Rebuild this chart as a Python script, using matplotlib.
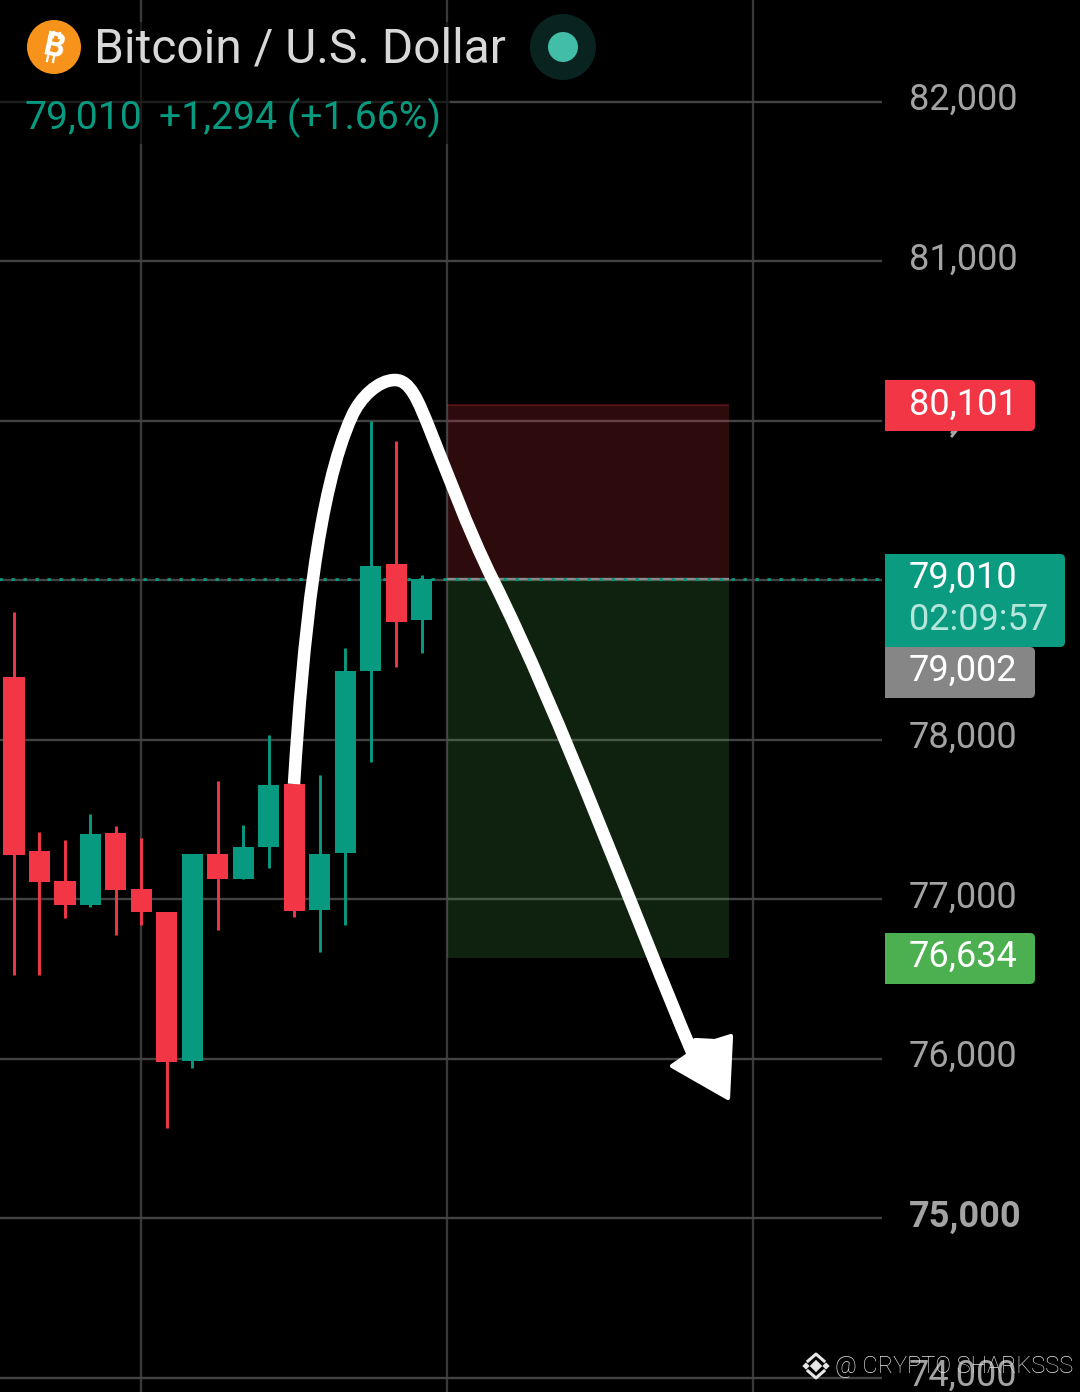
import matplotlib
matplotlib.use("Agg")
import matplotlib.pyplot as plt
from matplotlib.patches import Circle, PathPatch, Polygon, Rectangle
from matplotlib.path import Path

plt.rcParams['font.family'] = ['Roboto', 'DejaVu Sans']

# candles, oldest first
opens = [78395, 77304, 77116, 76966, 77417, 77066, 76922, 75987, 77285, 77129, 77329,
         77724, 76934, 77292, 78433, 79103, 78752]
highs = [78803, 77423, 77373, 77536, 77461, 77386, 76922, 77285, 77743, 77467, 78031,
         77724, 77781, 78577, 80000, 79875, 79034]
lows = [76527, 76527, 76884, 76953, 76777, 76840, 75567, 75944, 76809, 77129, 77197,
        76890, 76671, 76840, 77862, 78458, 78545]
closes = [77279, 77110, 76966, 77411, 77060, 76922, 75981, 77285, 77129, 77329, 77718,
          76928, 77285, 78433, 79091, 78740, 79009]

grid_prices = [82000, 81000, 80000, 79000, 78000, 77000, 76000, 75000, 74000]
grid_labels = ['82,000', '81,000', '80,000', '79,000', '78,000', '77,000', '76,000', '75,000', '74,000']
grid_bars = [5, 17, 29]

last_price = 79010
stop_price = 80101
target_price = 76634
box_start = 17
box_end = 28.08

RED = '#f23645'
GREEN = '#089981'
W, H = 1080, 1392

fig = plt.figure(figsize=(W / 100, H / 100), dpi=100, facecolor='black')

# chart in bar index / price
ax = fig.add_axes([0, 0, 1, 1], facecolor='black')
ax.set_xlim(-0.55, 41.85)
ax.set_ylim(73912, 82639.5)
ax.axis('off')
scale_x = 34.08  # where the price scale starts, in bars
label_x = 35.14

for b in grid_bars:
    ax.axvline(b, color='#3a3a3a', lw=1.7, zorder=1)
ax.hlines(grid_prices, -1, scale_x, color='#434343', lw=1.7, zorder=1)

ax.add_patch(Rectangle((box_start, last_price), box_end - box_start, stop_price - last_price,
                       facecolor=RED, alpha=0.19, edgecolor='none', zorder=2))
ax.add_patch(Rectangle((box_start, target_price), box_end - box_start, last_price - target_price,
                       facecolor='#4caf50', alpha=0.2, edgecolor='none', zorder=2))
ax.hlines(stop_price, box_start, box_end, color=RED, alpha=0.25, lw=1.5, zorder=2)
ax.hlines(last_price, box_start, box_end, color='#8a8a8a', lw=1.7, zorder=2)

ax.hlines(last_price, -1, scale_x, color=GREEN, lw=2, linestyles=(0, (1.2, 3.12)), zorder=3)

for i in range(len(opens)):
    c = GREEN if closes[i] >= opens[i] else RED
    ax.vlines(i, lows[i], highs[i], color=c, lw=2.1, zorder=4)
    ax.bar(i, abs(closes[i] - opens[i]), bottom=min(opens[i], closes[i]), width=0.83, color=c, zorder=5)

for p, t in zip(grid_prices, grid_labels):
    ax.text(label_x, p + 12, t, ha='left', va='center', fontsize=26, color='#a3a3a3',
            fontweight='bold' if p == 75000 else 'normal', zorder=6)

# overlay in pixels: header, price tags, drawn arrow, watermark
ov = fig.add_axes([0, 0, 1, 1], facecolor='none')
ov.set_xlim(0, W)
ov.set_ylim(H, 0)
ov.axis('off')

ov.add_patch(Rectangle((0, 22), 450, 122, facecolor='black', alpha=0.55, edgecolor='none', zorder=1))

ov.add_patch(Circle((54, 47), 27, facecolor='#f7931a', zorder=2))
ov.text(54, 47, 'B', color='white', fontsize=24, fontweight='bold', rotation=-12,
        ha='center', va='center', zorder=3)
ov.plot([53, 54], [37, 32], color='white', lw=1.6, zorder=3)
ov.plot([59, 60], [38, 33], color='white', lw=1.6, zorder=3)
ov.plot([47, 48], [61, 56], color='white', lw=1.6, zorder=3)
ov.plot([53, 54], [62, 57], color='white', lw=1.6, zorder=3)
ov.text(94, 49, 'Bitcoin / U.S. Dollar', color='#d8d8d8', fontsize=34.5, ha='left', va='center', zorder=3)
ov.add_patch(Circle((563, 47), 33, facecolor='#092420', zorder=2))
ov.add_patch(Circle((563, 47), 15, facecolor='#42bda8', zorder=3))
ov.text(24, 118, '79,010', color=GREEN, fontsize=28.2, ha='left', va='center', zorder=3)
ov.text(159, 118, '+1,294 (+1.66%)', color=GREEN, fontsize=28.2, ha='left', va='center', zorder=3)


def tag(x0, x1, y0, y1, color, r=5):
    verts = [(x0, y0), (x1 - r, y0), (x1, y0), (x1, y0 + r), (x1, y1 - r), (x1, y1), (x1 - r, y1), (x0, y1), (x0, y0)]
    codes = [Path.MOVETO, Path.LINETO, Path.CURVE3, Path.CURVE3, Path.LINETO, Path.CURVE3, Path.CURVE3,
             Path.LINETO, Path.CLOSEPOLY]
    ov.add_patch(PathPatch(Path(verts, codes), facecolor=color, edgecolor='none', zorder=4))


tag(885, 1035, 380, 431, RED)
tag(885, 1065, 554, 647, '#0a9b80')
tag(885, 1035, 647, 698, '#868686')
tag(885, 1035, 933, 984, '#4caf50')
ov.plot([952, 956], [436, 431], color='#aaaaaa', lw=2, zorder=3)

label_kw = dict(ha='left', va='center', fontsize=26, zorder=5)
ov.text(909, 405, '80,101', color='white', **label_kw)
ov.text(909, 578, '79,010', color='white', **label_kw)
ov.text(909, 620, '02:09:57', color='#b5e6dc', **label_kw)
ov.text(909, 671, '79,002', color='white', **label_kw)
ov.text(909, 957, '76,634', color='white', **label_kw)

# hand drawn arrow
curve = [(294, 784), (303, 640), (318, 490), (352, 416),
         (360, 398), (378, 380), (395, 380),
         (410, 380), (418, 400), (430, 430),
         (445, 467), (468, 530), (493, 580),
         (560, 714), (640, 930), (692, 1052)]
codes = [Path.MOVETO] + [Path.CURVE4] * 15
ov.add_patch(PathPatch(Path(curve, codes), facecolor='none', edgecolor='white', lw=9,
                       capstyle='butt', joinstyle='round', zorder=6))
head = [(731, 1036), (728, 1098), (672, 1066), (688, 1055), (695, 1040), (715, 1041)]
ov.add_patch(Polygon(head, closed=True, facecolor='white', edgecolor='white', lw=3, joinstyle='round', zorder=6))

# watermark
wm = '#e6e6e6'
ov.scatter([816, 806, 826], [1366, 1366, 1366], marker='D', s=[40, 14, 14], color=wm, linewidths=0, zorder=7)
ov.plot([808, 816, 824], [1361, 1354, 1361], color=wm, lw=2.2, zorder=7)
ov.plot([808, 816, 824], [1371, 1378, 1371], color=wm, lw=2.2, zorder=7)
ov.text(835, 1366, '@ CRYPTO SHARKSSS', color=wm, fontsize=16.9, ha='left', va='center', fontweight='light', zorder=7)

fig.savefig('out.png', dpi=100, facecolor='black')
